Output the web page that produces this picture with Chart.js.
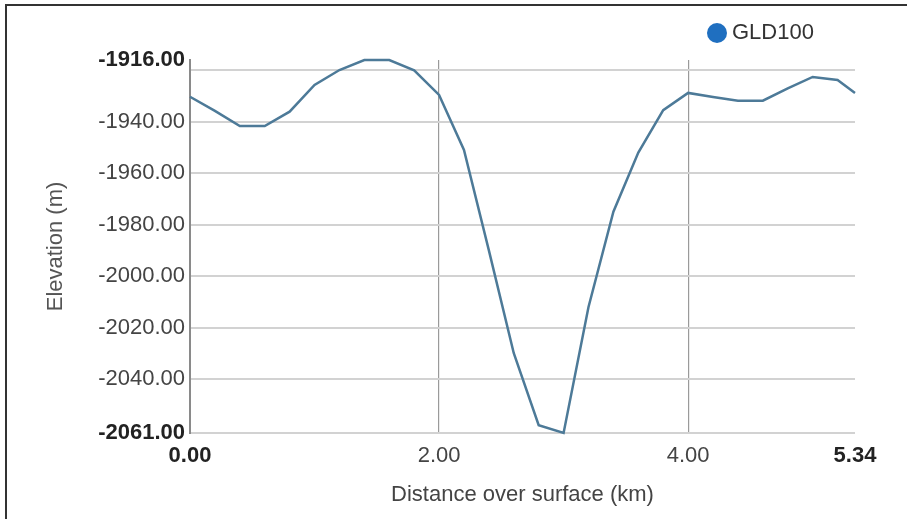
<!DOCTYPE html>
<html>
<head>
<meta charset="utf-8">
<script src="https://cdn.jsdelivr.net/npm/chart.js@4"></script>
<style>
  html, body { margin: 0; padding: 0; background: #fff; }
  #wrap { position: relative; width: 907px; height: 519px; overflow: hidden; }
  #frame { position: absolute; left: 5px; top: 4px; width: 920px; height: 540px;
           border-left: 2px solid #333; border-top: 2px solid #333; }
  #chart { position: absolute; left: 0; top: 0; }
  #legend { position: absolute; left: 707px; top: 19px; font: 22px "Liberation Sans", Arial, sans-serif;
            color: #333; white-space: nowrap; line-height: 26px; }
  #legend span.dot { display: inline-block; width: 20px; height: 20px; border-radius: 50%;
            background: #1f6fc0; vertical-align: -4px; margin-right: 5px; }
</style>
</head>
<body>
<div id="wrap">
  <div id="frame"></div>
  <canvas id="chart" width="907" height="519"></canvas>
  <div id="legend"><span class="dot"></span>GLD100</div>
</div>
<script>
// --- DATA ---
const seriesName = 'GLD100';
const distances = [0, 0.2, 0.4, 0.6, 0.8, 1.0, 1.2, 1.4, 1.6, 1.8, 2.0, 2.2, 2.4, 2.6,
                   2.8, 3.0, 3.2, 3.4, 3.6, 3.8, 4.0, 4.2, 4.4, 4.6, 4.8, 5.0, 5.2, 5.34];
const elevations = [-1930.3, -1935.8, -1941.7, -1941.7, -1936.1, -1925.7, -1919.9, -1916, -1916,
                    -1920, -1929.6, -1951, -1990, -2030, -2058, -2061, -2012, -1975, -1952,
                    -1935.5, -1928.8, -1930.4, -1931.8, -1931.8, -1927, -1922.6, -1923.8, -1928.8];
const xTicks = [0, 2, 4, 5.34];
const yTicks = [-2061, -2040, -2020, -2000, -1980, -1960, -1940, -1920, -1916];
const yMin = -2061, yMax = -1916;
const xMin = 0, xMax = 5.34;

const FONT = '"Liberation Sans", Arial, sans-serif';

// true when the tick sits on either end of the axis (those labels are bold)
function isEnd(c, lo, hi) {
    if (!c || !c.tick) return false;
    const v = c.tick.value;
    return Math.abs(v - lo) < 1e-6 || Math.abs(v - hi) < 1e-6;
}

const points = distances.map((d, i) => ({ x: d, y: elevations[i] }));

new Chart(document.getElementById('chart'), {
    type: 'line',
    data: {
        datasets: [{
            label: seriesName,
            data: points,
            borderColor: '#4d7a98',
            borderWidth: 2.5,
            pointRadius: 0,
            tension: 0,
            fill: false,
            clip: false
        }]
    },
    options: {
        responsive: false,
        animation: false,
        layout: { padding: { left: 0, right: 52, top: 60, bottom: 0 } },
        plugins: { legend: { display: false }, tooltip: { enabled: false } },
        scales: {
            x: {
                type: 'linear',
                min: xMin,
                max: xMax,
                afterBuildTicks: s => { s.ticks = xTicks.map(v => ({ value: v })); },
                afterFit: s => { s.height = 86; },
                ticks: {
                    autoSkip: false,
                    padding: 10,
                    maxRotation: 0,
                    callback: v => Number(v).toFixed(2),
                    color: c => isEnd(c, xMin, xMax) ? '#222' : '#444',
                    font: c => ({ family: FONT, size: 22, weight: isEnd(c, xMin, xMax) ? 'bold' : 'normal' })
                },
                grid: {
                    drawTicks: false,
                    color: c => (c.tick && (c.tick.value === 2 || c.tick.value === 4)) ? '#9a9a9a' : 'rgba(0,0,0,0)',
                    lineWidth: 1.2
                },
                border: { display: false },
                title: {
                    display: true,
                    text: 'Distance over surface (km)',
                    color: '#444',
                    font: { family: FONT, size: 22 },
                    padding: { top: 0, bottom: 11 }
                }
            },
            y: {
                min: yMin,
                max: yMax,
                afterBuildTicks: s => { s.ticks = yTicks.map(v => ({ value: v })); },
                afterFit: s => { s.width = 190; },
                ticks: {
                    autoSkip: false,
                    padding: 5,
                    callback: v => v === -1920 ? '' : Number(v).toFixed(2),
                    color: c => isEnd(c, yMin, yMax) ? '#222' : '#444',
                    font: c => ({ family: FONT, size: 22, weight: isEnd(c, yMin, yMax) ? 'bold' : 'normal' })
                },
                grid: {
                    drawTicks: false,
                    color: c => (c.tick && c.tick.value === yMax) ? 'rgba(0,0,0,0)' : '#d2d2d2',
                    lineWidth: 2
                },
                border: { display: true, color: '#8a8a8a', width: 2 },
                title: {
                    display: true,
                    text: 'Elevation (m)',
                    color: '#555',
                    font: { family: FONT, size: 22 },
                    padding: { top: 43, bottom: 0 }
                }
            }
        }
    }
});
</script>
</body>
</html>
